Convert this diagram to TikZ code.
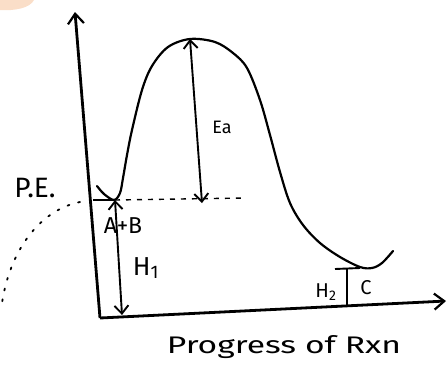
\documentclass[tikz,border=0pt]{standalone}
\usepackage{fontspec}
\setmainfont{Fira Sans}
\usetikzlibrary{arrows.meta}
\definecolor{peach}{RGB}{250,222,200}
\tikzset{
  axis/.style={line width=2.8pt, -{Straight Barb[length=10pt,width=16pt,line width=2.2pt]}},
  curveline/.style={line width=2.2pt, line cap=round, line join=round},
  dimarrow/.style={line width=1.9pt, {Straight Barb[length=8pt,width=14pt]}-{Straight Barb[length=8pt,width=14pt]}},
  thinline/.style={line width=1.9pt},
  lbl/.style={inner sep=0pt, font=\fontsize{20}{24}\selectfont}
}
\begin{document}
\begin{tikzpicture}[x=1pt,y=-1pt]
\useasboundingbox (0,0) rectangle (447,365);
% faint peach blob top-left
\fill[peach] (0,0) -- (34,0) .. controls (30,8) and (15,11) .. (0,10) -- cycle;
% coordinates
\coordinate (O) at (100,318);
\coordinate (ytop) at (75,12);
\coordinate (xend) at (446,301);
\coordinate (peak) at (190,39);
\coordinate (eabot) at (202,203);
\coordinate (minL) at (115,200);
\coordinate (axL) at (93,200);
\coordinate (dashend) at (245,198);
\coordinate (h1bot) at (122,315);
\coordinate (h2bot) at (347,307);
\coordinate (h2top) at (347,269);
\coordinate (h2l) at (335,269);
\coordinate (h2r) at (360,268);
\coordinate (dotA) at (80,202);
\coordinate (dotB) at (2,303);
% axes
\draw[axis] (O) -- (ytop);
\draw[axis] (O) -- (xend);
% energy curve
\draw[curveline] plot[smooth, tension=0.55] coordinates {
 (97,186) (104,194) (114,200) (120,193) (123,178) (127,155) (132,130)
 (142,90) (152,66) (168,47) (190,39) (215,42) (233,53) (247,68)
 (260,100) (270,135) (280,172) (290,203) (303,225) (320,243)
 (340,257) (360,267) (372,268) (382,263) (393,251)};
% reactant level
\draw[thinline] (axL) -- (minL);
\draw[line width=1.4pt, dash pattern=on 5pt off 6pt] (minL) -- (dashend);
% Ea arrow
\draw[dimarrow] (peak) -- (eabot);
% H1 arrow
\draw[dimarrow] (h1bot) -- (minL);
% H2 level
\draw[thinline] (h2bot) -- (h2top);
\draw[thinline] (h2l) -- (h2r);
% dotted arc
\draw[line width=1.8pt, dash pattern=on 2pt off 9pt, line cap=round] (dotA) .. controls (40,210) and (10,250) .. (dotB);
% labels
\node[lbl, font=\fontsize{28}{32}\selectfont] (pe) at (35,188) {P.E.};
\node[lbl, font=\fontsize{18}{20}\selectfont] (ea) at (222,127) {Ea};
\node[lbl, font=\fontsize{23}{26}\selectfont] (ab) at (123,226) {A+B};
\node[lbl, font=\fontsize{26}{30}\selectfont] (h1) at (146,268) {H\textsubscript{1}};
\node[lbl] (h2) at (326,292) {H\textsubscript{2}};
\node[lbl] (c) at (366,288) {C};
\node[lbl] (prog) at (284,347) {\scalebox{1.4}[1]{\fontsize{24}{28}\selectfont Progress of Rxn}};
\end{tikzpicture}
\end{document}
